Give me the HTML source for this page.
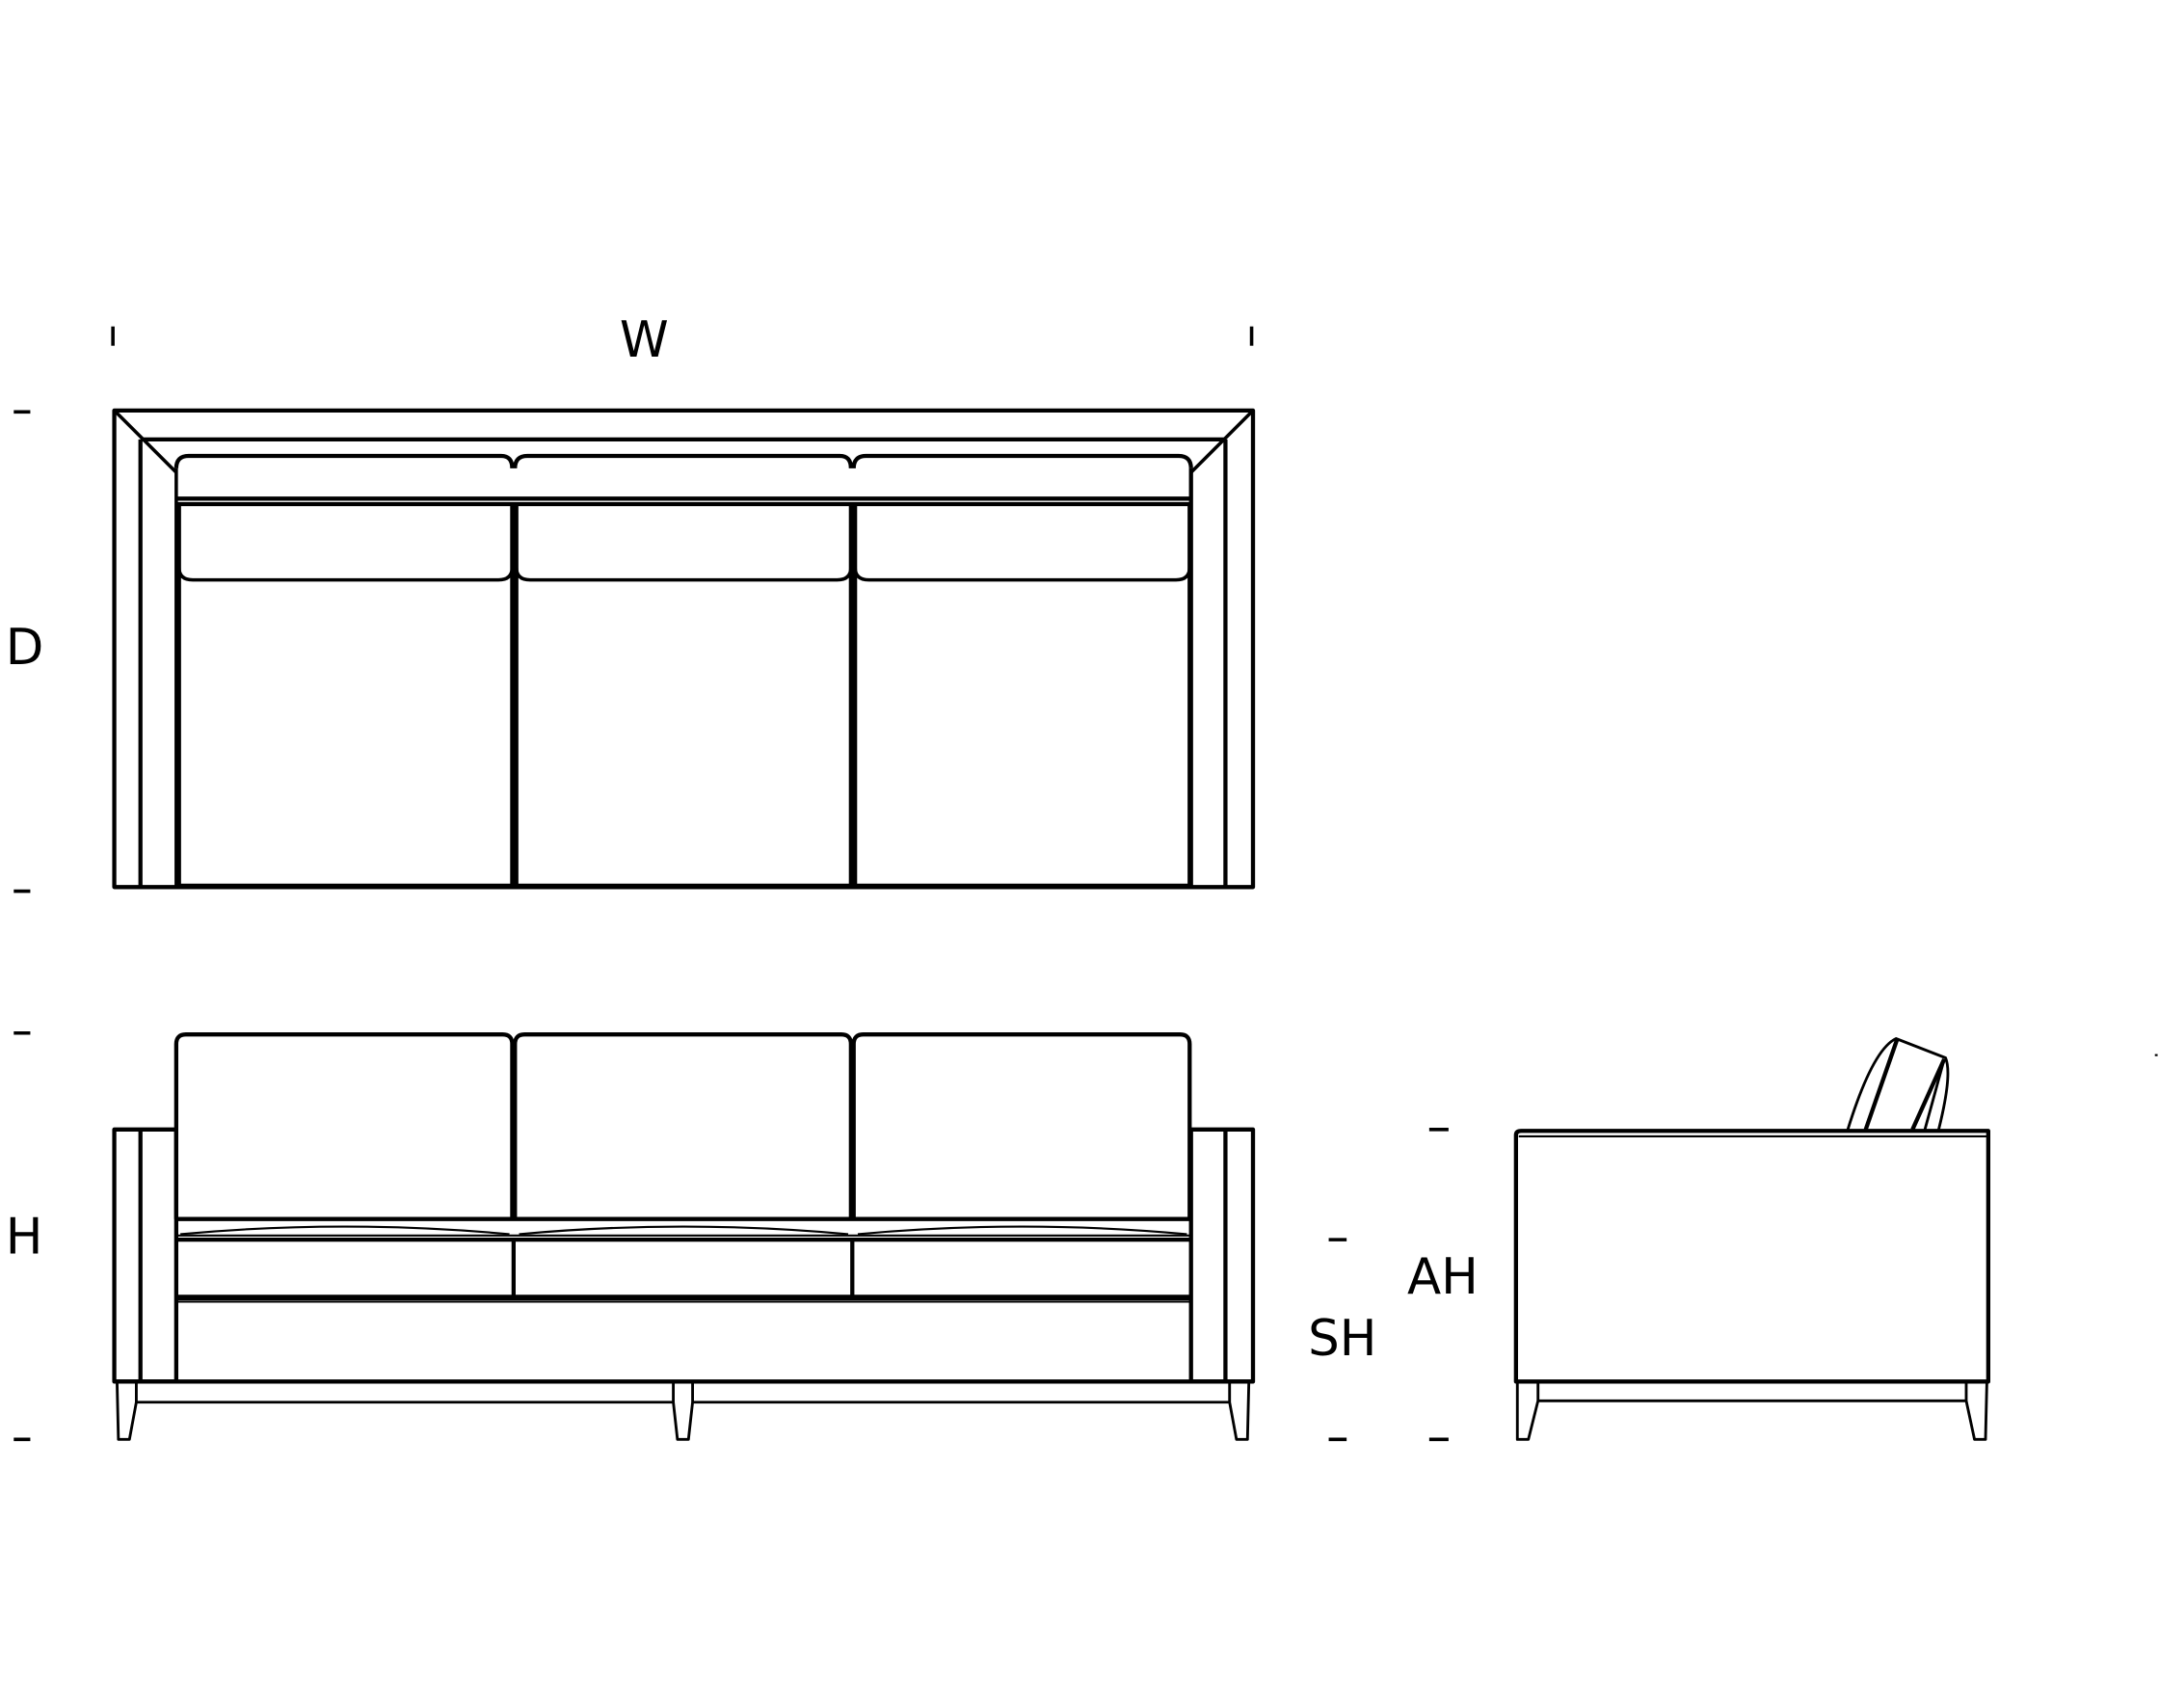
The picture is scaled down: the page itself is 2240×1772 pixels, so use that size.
<!DOCTYPE html>
<html><head><meta charset="utf-8"><style>
html,body{margin:0;padding:0;background:#fff;}
svg{display:block;}
text{font-family:"DejaVu Sans","Liberation Sans",sans-serif;font-size:36px;fill:#000;}
</style></head><body>
<svg width="2240" height="1772" viewBox="0 0 1568 1240" preserveAspectRatio="none" xmlns="http://www.w3.org/2000/svg">
<g fill="none" stroke="#000" stroke-width="2.5" stroke-linejoin="round">
<line x1="82" y1="237" x2="82" y2="251"/>
<line x1="909" y1="237" x2="909" y2="251"/>
<line x1="10" y1="299" x2="22" y2="299"/>
<line x1="10" y1="647" x2="22" y2="647"/>
<line x1="10" y1="750" x2="22" y2="750"/>
<line x1="10" y1="1045" x2="22" y2="1045"/>
<line x1="965" y1="900" x2="978" y2="900"/>
<line x1="965" y1="1045" x2="978" y2="1045"/>
<line x1="1038" y1="820" x2="1052" y2="820"/>
<line x1="1038" y1="1045" x2="1052" y2="1045"/>

<rect x="83" y="298" width="827" height="346" stroke-width="3"/>
<line x1="102" y1="319" x2="890" y2="319" stroke-width="3"/>
<line x1="102" y1="319" x2="102" y2="644" stroke-width="3"/>
<line x1="890" y1="319" x2="890" y2="644" stroke-width="3"/>
<line x1="83" y1="298" x2="128" y2="343"/>
<line x1="910" y1="298" x2="865" y2="343"/>
<line x1="865" y1="340" x2="865" y2="644" stroke-width="3"/>
<g stroke-width="3">
<path d="M128 340 Q128 331 137 331 L364 331 Q372 331 372 340 M374 340 Q374 331 383 331 L610 331 Q618 331 618 340 M620 340 Q620 331 629 331 L856 331 Q865 331 865 340"/>
<path d="M128 362 L865 362"/>
<path d="M128 366 L865 366"/>
<path d="M130 366 L130 643 L372 643 L372 366 M375 366 L375 643 L618 643 L618 366 M621 366 L621 643 L864 643 L864 366"/>
</g>
<path d="M130 412 Q130 421 140 421 L362 421 Q372 421 372 412 M375 412 Q375 421 385 421 L608 421 Q618 421 618 412 M621 412 Q621 421 631 421 L854 421 Q864 421 864 412"/>
<line x1="128" y1="340" x2="128" y2="644"/>

<g stroke-width="3">
<path d="M128 885 L128 758 Q128 751 135 751 L365 751 Q372 751 372 758 L372 885"/>
<path d="M374 885 L374 758 Q374 751 381 751 L611 751 Q618 751 618 758 L618 885 M620 885 L620 758 Q620 751 627 751 L857 751 Q864 751 864 758 L864 885"/>
<line x1="128" y1="885" x2="864" y2="885"/>
<line x1="128" y1="900" x2="864" y2="900"/>
<line x1="128" y1="942" x2="864" y2="942" stroke-width="4"/>
<line x1="83" y1="1003" x2="910" y2="1003"/>
<rect x="83" y="820" width="45" height="183"/>
<line x1="102" y1="820" x2="102" y2="1003"/>
<rect x="865" y="820" width="45" height="183"/>
<line x1="890" y1="820" x2="890" y2="1003"/>
<line x1="373" y1="900" x2="373" y2="942"/>
<line x1="619" y1="900" x2="619" y2="942"/>
</g>
<g stroke-width="1.5">
<path d="M131 896 Q250 885 370 896 M377 896 Q496 885 616 896 M623 896 Q742 885 862 896"/>
<line x1="128" y1="897" x2="864" y2="897"/>
<line x1="128" y1="945" x2="864" y2="945"/>
</g>
<g stroke-width="2">
<line x1="99" y1="1018" x2="489" y2="1018"/>
<line x1="503" y1="1018" x2="893" y2="1018"/>
<path d="M85 1003 L86 1045 L94 1045 L99 1018 L99 1003"/>
<path d="M489 1003 L489 1018 L492 1045 L500 1045 L503 1018 L503 1003"/>
<path d="M893 1003 L893 1018 L898 1045 L906 1045 L907 1003"/>
</g>

<path d="M1101 1003 L1101 824 Q1101 821 1105 821 L1444 821 L1444 1003 Z" stroke-width="3"/>
<line x1="1103" y1="825" x2="1444" y2="825" stroke-width="1.5"/>
<g stroke-width="2">
<line x1="1117" y1="1017" x2="1428" y2="1017"/>
<path d="M1102 1003 L1102 1045 L1110 1045 L1117 1017 L1117 1003"/>
<path d="M1428 1003 L1428 1017 L1434 1045 L1442 1045 L1443 1003"/>
<path d="M1342 820 Q1360 762 1377 754 L1413 768 Q1418 780 1408 820"/>
<line x1="1412" y1="769" x2="1398" y2="820"/>
</g>
<line x1="1378" y1="754" x2="1355" y2="820" stroke-width="3"/>
<line x1="1412" y1="769" x2="1389" y2="820" stroke-width="3"/>
<line x1="1565" y1="766" x2="1567" y2="766" stroke-width="1.5"/>
</g>
<text x="450" y="259">W</text>
<text x="4" y="482">D</text>
<text x="4" y="910">H</text>
<text x="950" y="984">SH</text>
<text x="1022" y="939">AH</text>
</svg>
</body></html>
